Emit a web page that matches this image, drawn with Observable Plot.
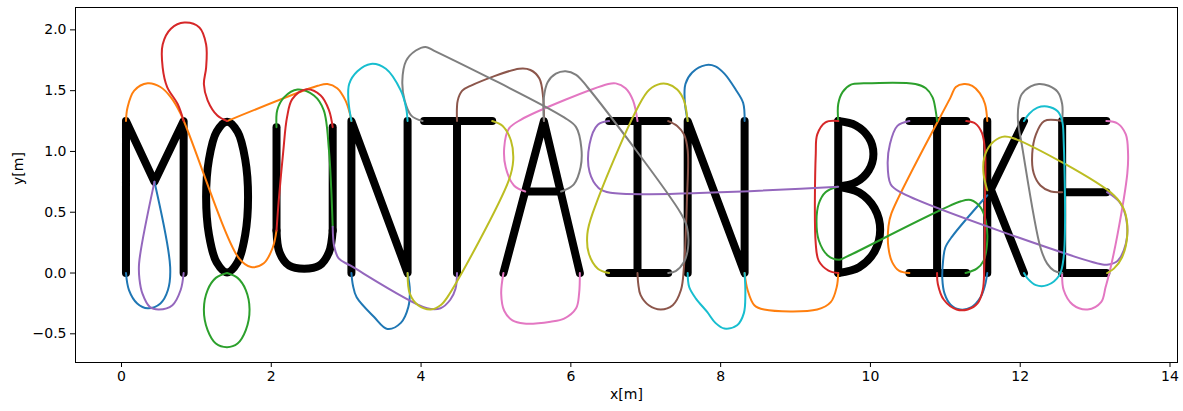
<!DOCTYPE html>
<html>
<head>
<meta charset="utf-8">
<script src="https://cdn.jsdelivr.net/npm/d3@7"></script>
<script src="https://cdn.jsdelivr.net/npm/@observablehq/plot@0.6"></script>
<style>
  html, body { margin: 0; padding: 0; background: #fff; }
  #chart svg { display: block; }
</style>
</head>
<body>
<div id="chart"></div>
<script>
// ---- axes ----
const xTicks = [0, 2, 4, 6, 8, 10, 12, 14];
const yTicks = [-0.5, 0, 0.5, 1, 1.5, 2];
const xDomain = [-0.614, 14.10];
const yDomain = [-0.736, 2.184];

// ---- pen-down strokes of the letters (straight parts) ----
const strokeM  = [[[0.06,0],[0.06,1.25],[0.44,0.75],[0.83,1.25],[0.83,0]]];
const strokeU  = [[[2.07,1.20],[2.07,0.35]], [[2.82,0.35],[2.82,1.20]]];
const strokeN1 = [[[3.07,0],[3.07,1.25],[3.82,0],[3.82,1.25]]];
const strokeT  = [[[4.04,1.25],[4.95,1.25]], [[4.48,1.25],[4.48,0]]];
const strokeA  = [[[5.10,0],[5.64,1.25],[6.12,0]], [[5.39,0.67],[5.87,0.67]]];
const strokeI1 = [[[6.51,1.25],[7.30,1.25]], [[6.89,1.25],[6.89,0]], [[6.51,0],[7.30,0]]];
const strokeN2 = [[[7.56,0],[7.56,1.25],[8.32,0],[8.32,1.25]]];
const strokeB  = [[[9.57,0],[9.57,1.25]]];
const strokeI2 = [[[10.52,1.25],[11.28,1.25]], [[10.89,1.25],[10.89,0]], [[10.52,0],[11.28,0]]];
const strokeK  = [[[11.56,0],[11.56,1.25]], [[12.05,1.25],[11.57,0.64]], [[11.60,0.70],[12.05,0]]];
const strokeE  = [[[12.56,0],[12.56,1.25]], [[12.56,1.25],[13.15,1.25]], [[12.56,0.665],[13.15,0.665]], [[12.56,0],[13.15,0]]];

// ---- pen-down strokes of the letters (rounded parts) ----
const roundO = [[[1.69,0.625],[1.652,0.935],[1.55,1.162],[1.41,1.245],[1.27,1.162],[1.168,0.935],[1.13,0.625],[1.168,0.315],[1.27,0.088],[1.41,0.005],[1.55,0.088],[1.652,0.315]]];
const roundU = [[[2.07,0.35],[2.11,0.17],[2.24,0.06],[2.44,0.035],[2.64,0.06],[2.77,0.17],[2.82,0.35]]];
const roundB = [
  [[9.57,1.25],[9.805,1.214],[9.977,1.115],[10.04,0.98],[9.977,0.845],[9.805,0.746],[9.57,0.71]],
  [[9.57,0.71],[9.85,0.662],[10.055,0.5325],[10.13,0.355],[10.055,0.1775],[9.85,0.048],[9.57,0]]
];

// ---- pen-up moves between strokes, grouped by line colour ----
const blueMoves = [
  [[0.06,0],[0.10,-0.14],[0.21,-0.25],[0.35,-0.29],[0.52,-0.25],[0.62,-0.14],[0.65,0.05],[0.44,0.75]],
  [[3.07,0],[3.09,-0.10],[3.14,-0.20],[3.37,-0.36],[3.55,-0.46],[3.73,-0.41],[3.83,-0.28],[3.85,-0.14],[3.82,0]],
  [[7.56,1.25],[7.52,1.42],[7.53,1.555],[7.62,1.65],[7.80,1.71],[7.93,1.70],[8.05,1.64],[8.20,1.51],[8.30,1.40],[8.32,1.25]],
  [[11.56,0.64],[11.09,0.30],[11.00,0.21],[10.97,0.10],[10.96,-0.05],[10.99,-0.17],[11.07,-0.26],[11.20,-0.30],[11.35,-0.28],[11.47,-0.20],[11.53,-0.10],[11.56,0]]
];
const orangeMoves = [
  [[0.06,1.25],[0.08,1.36],[0.17,1.50],[0.35,1.56],[0.52,1.53],[0.66,1.445],[0.79,1.31],[1.57,0.12],[1.73,0.05],[1.90,0.08],[2.02,0.21],[2.07,0.35]],
  [[1.41,1.25],[2.62,1.54],[2.75,1.555],[2.88,1.52],[2.99,1.42],[3.05,1.31],[3.07,1.25]],
  [[8.32,0],[8.36,-0.14],[8.45,-0.265],[8.58,-0.30],[9.29,-0.30],[9.47,-0.24],[9.55,-0.115],[9.57,0]],
  [[10.52,0],[10.38,0.02],[10.29,0.09],[10.24,0.21],[10.24,0.38],[10.28,0.49],[11.07,1.445],[11.14,1.53],[11.25,1.555],[11.36,1.54],[11.46,1.48],[11.53,1.39],[11.56,1.25]]
];
const greenMoves = [
  [[1.41,0],[1.55,-0.04],[1.66,-0.14],[1.71,-0.30],[1.66,-0.47],[1.55,-0.58],[1.41,-0.61],[1.26,-0.58],[1.15,-0.47],[1.10,-0.30],[1.15,-0.14],[1.26,-0.04],[1.41,0]],
  [[2.82,0.38],[2.80,0.70],[2.77,1.01],[2.70,1.34],[2.57,1.46],[2.35,1.51],[2.17,1.445],[2.08,1.34],[2.07,1.20]],
  [[9.57,1.25],[9.57,1.39],[9.63,1.49],[9.74,1.55],[9.91,1.56],[10.60,1.555],[10.74,1.52],[10.83,1.445],[10.87,1.34],[10.89,1.25]],
  [[9.56,0.71],[9.40,0.665],[9.31,0.57],[9.28,0.43],[9.31,0.27],[9.43,0.145],[9.58,0.11],[9.65,0.125],[11.21,0.59],[11.34,0.60],[11.47,0.54],[11.54,0.43],[11.56,0.27],[11.51,0.10],[11.42,0.036],[11.27,0]]
];
const redMoves = [
  [[0.83,1.25],[0.75,1.39],[0.61,1.53],[0.55,1.69],[0.55,1.88],[0.66,2.01],[0.84,2.06],[1.04,2.02],[1.13,1.88],[1.13,1.69],[1.10,1.555],[1.15,1.42],[1.28,1.295],[1.41,1.25]],
  [[2.07,0.35],[2.10,0.60],[2.16,1.00],[2.21,1.28],[2.28,1.43],[2.46,1.51],[2.66,1.46],[2.77,1.34],[2.82,1.20]],
  [[9.57,1.25],[9.40,1.24],[9.29,1.14],[9.27,0.98],[9.27,0.24],[9.31,0.10],[9.44,0.02],[9.57,0]],
  [[11.28,1.25],[11.40,1.23],[11.49,1.15],[11.53,1.00],[11.53,0.60],[11.52,0.05],[11.50,-0.14],[11.43,-0.25],[11.30,-0.30],[11.15,-0.30],[10.98,-0.22],[10.90,-0.09],[10.89,0]]
];
const purpleMoves = [
  [[0.44,0.75],[0.235,0.08],[0.24,-0.05],[0.28,-0.17],[0.38,-0.28],[0.50,-0.30],[0.68,-0.265],[0.79,-0.14],[0.83,0]],
  [[2.82,0.38],[2.84,0.22],[2.90,0.12],[3.06,0.06],[4.08,-0.29],[4.26,-0.29],[4.39,-0.22],[4.46,-0.13],[4.48,0]],
  [[6.51,1.25],[6.36,1.22],[6.25,1.06],[6.25,0.83],[6.37,0.70],[6.53,0.66],[9.57,0.71]],
  [[10.52,1.25],[10.36,1.21],[10.26,1.06],[10.23,0.90],[10.27,0.73],[10.40,0.665],[13.10,0.07],[13.18,0.07],[13.30,0.10],[13.41,0.24],[13.42,0.43],[13.33,0.58],[13.16,0.665]]
];
const brownMoves = [
  [[4.48,1.25],[4.49,1.42],[4.55,1.50],[4.66,1.54],[5.31,1.68],[5.46,1.67],[5.58,1.60],[5.63,1.445],[5.64,1.25]],
  [[7.30,1.25],[7.42,1.21],[7.51,1.14],[7.56,1.01],[7.55,0.60],[7.51,0.05],[7.47,-0.14],[7.36,-0.265],[7.20,-0.30],[7.04,-0.265],[6.93,-0.18],[6.90,-0.09],[6.89,0]],
  [[12.56,1.25],[12.32,1.25],[12.21,1.14],[12.16,0.98],[12.18,0.82],[12.27,0.72],[12.41,0.67],[12.56,0.665]]
];
const pinkMoves = [
  [[5.39,0.67],[5.24,0.72],[5.13,0.87],[5.11,1.03],[5.17,1.185],[5.33,1.26],[6.50,1.555],[6.60,1.56],[6.73,1.52],[6.83,1.42],[6.89,1.25]],
  [[5.10,0],[5.07,-0.17],[5.11,-0.31],[5.22,-0.39],[5.375,-0.415],[5.73,-0.40],[5.91,-0.375],[6.07,-0.29],[6.11,-0.17],[6.12,0]],
  [[13.15,1.25],[13.30,1.23],[13.41,1.14],[13.44,0.98],[13.43,0.82],[13.30,0.32],[13.19,0],[13.14,-0.115],[13.08,-0.24],[12.90,-0.30],[12.70,-0.26],[12.58,-0.14],[12.56,0]]
];
const grayMoves = [
  [[4.02,1.25],[3.87,1.295],[3.78,1.42],[3.75,1.58],[3.80,1.745],[3.93,1.83],[4.06,1.86],[4.17,1.83],[5.91,1.28],[6.07,1.20],[6.14,1.03],[6.13,0.87],[6.04,0.73],[5.91,0.68],[5.87,0.67]],
  [[5.64,1.25],[5.64,1.445],[5.69,1.57],[5.80,1.64],[5.93,1.66],[6.07,1.63],[6.22,1.53],[7.47,0.49],[7.55,0.38],[7.565,0.21],[7.51,0.09],[7.40,0.016],[7.30,0]],
  [[12.56,1.25],[12.56,1.39],[12.50,1.49],[12.38,1.54],[12.25,1.555],[12.14,1.535],[12.02,1.47],[11.98,1.39],[11.97,1.25],[12.02,1.06],[12.27,0.21],[12.36,0.077],[12.45,0.02],[12.56,0]]
];
const oliveMoves = [
  [[3.82,0],[3.85,-0.17],[3.96,-0.265],[4.13,-0.30],[4.26,-0.265],[4.35,-0.20],[5.17,0.76],[5.23,0.925],[5.20,1.09],[5.09,1.21],[4.95,1.25]],
  [[6.51,0],[6.36,0.036],[6.24,0.16],[6.22,0.32],[6.29,0.49],[7.02,1.49],[7.16,1.55],[7.29,1.555],[7.42,1.51],[7.51,1.42],[7.56,1.25]],
  [[11.56,0.68],[11.51,0.82],[11.52,0.95],[11.61,1.06],[11.76,1.12],[11.90,1.11],[13.25,0.64],[13.39,0.515],[13.43,0.32],[13.36,0.13],[13.25,0.036],[13.16,0]]
];
const cyanMoves = [
  [[3.07,1.25],[3.03,1.42],[3.04,1.555],[3.15,1.66],[3.33,1.72],[3.53,1.68],[3.73,1.50],[3.80,1.36],[3.82,1.25]],
  [[7.56,0],[7.58,-0.115],[7.67,-0.21],[7.82,-0.32],[7.93,-0.41],[8.05,-0.457],[8.22,-0.43],[8.31,-0.33],[8.33,-0.17],[8.32,0]],
  [[12.05,1.25],[12.12,1.31],[12.23,1.36],[12.36,1.37],[12.50,1.33],[12.56,1.25],[12.58,1.09],[12.58,0.13],[12.52,-0.02],[12.36,-0.10],[12.21,-0.10],[12.10,-0.046],[12.05,0]]
];

// matplotlib "tab10" cycle
const moveColors = [
  ["#1f77b4", blueMoves], ["#ff7f0e", orangeMoves], ["#2ca02c", greenMoves],
  ["#d62728", redMoves], ["#9467bd", purpleMoves], ["#8c564b", brownMoves],
  ["#e377c2", pinkMoves], ["#7f7f7f", grayMoves], ["#bcbd22", oliveMoves],
  ["#17becf", cyanMoves]
];

// flatten a list of polylines into rows with a path id
const toRows = (paths) => paths.flatMap((p, i) => p.map(([x, y]) => ({x, y, id: i})));

const straightRows = toRows([...strokeM, ...strokeU, ...strokeN1, ...strokeT, ...strokeA,
  ...strokeI1, ...strokeN2, ...strokeB, ...strokeI2, ...strokeK, ...strokeE]);
const roundRows = toRows([...roundU, ...roundB]);
const oRows = toRows(roundO);

const pen = {stroke: "black", strokeWidth: 8, strokeLinecap: "round", strokeLinejoin: "round"};

const fmt = (d) => (d < 0 ? "\u2212" : "") + Math.abs(d).toFixed(1);

const chart = Plot.plot({
  width: 1183,
  height: 411,
  marginLeft: 75,
  marginRight: 6,
  marginTop: 7,
  marginBottom: 49,
  style: {fontFamily: "DejaVu Sans", fontSize: "14px", background: "white", color: "black"},
  x: {domain: xDomain},
  y: {domain: yDomain},
  marks: [
    Plot.line(straightRows, {x: "x", y: "y", z: "id", ...pen}),
    Plot.line(roundRows, {x: "x", y: "y", z: "id", curve: "catmull-rom", ...pen}),
    Plot.line(oRows, {x: "x", y: "y", z: "id", curve: "catmull-rom-closed", ...pen}),
    ...moveColors.map(([color, paths]) =>
      Plot.line(toRows(paths), {x: "x", y: "y", z: "id", curve: "catmull-rom", stroke: color, strokeWidth: 2})
    ),
    Plot.frame({stroke: "black", strokeWidth: 1}),
    Plot.axisX(xTicks, {tickSize: 5, tickPadding: 4, fontSize: 14, label: null, tickFormat: (d) => String(d)}),
    Plot.axisY(yTicks, {tickSize: 5, tickPadding: 4, fontSize: 14, label: null, tickFormat: fmt}),
    Plot.text(["x[m]"], {frameAnchor: "bottom", dy: 36, text: (d) => d, fontSize: 14}),
    Plot.text(["y[m]"], {frameAnchor: "left", dx: -57, rotate: -90, text: (d) => d, fontSize: 14})
  ]
});

document.getElementById("chart").appendChild(chart);
</script>
</body>
</html>
